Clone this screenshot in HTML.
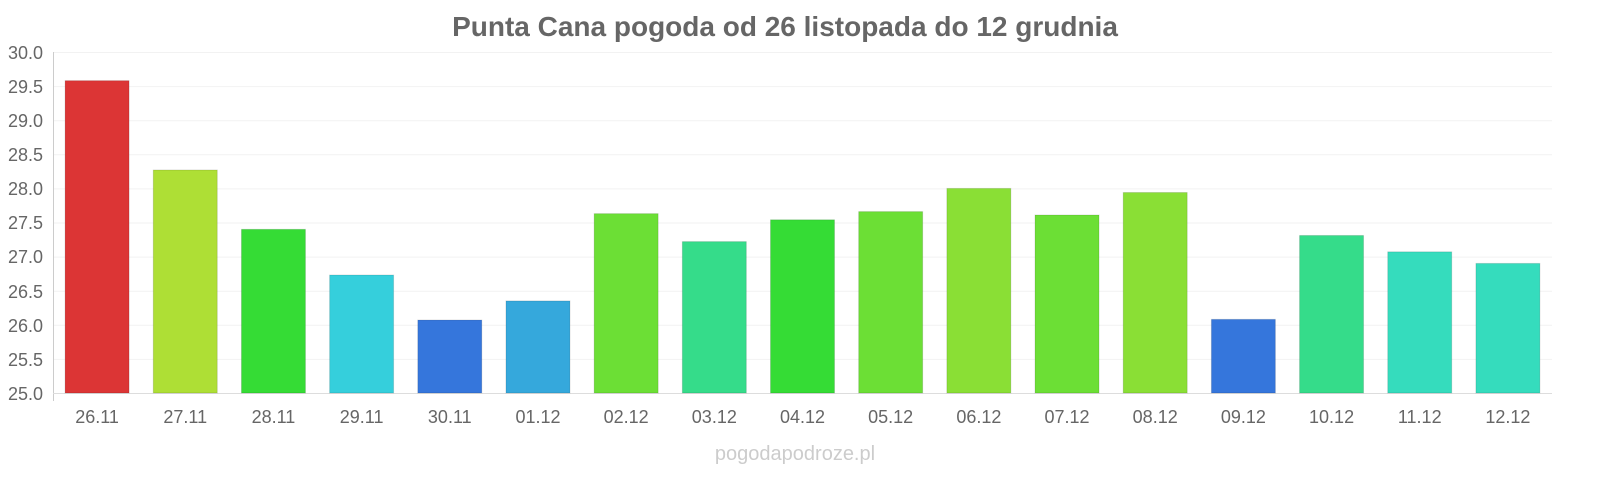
<!DOCTYPE html>
<html><head><meta charset="utf-8"><style>body{margin:0;background:#fff}svg{display:block}text{font-family:"Liberation Sans",sans-serif}</style></head>
<body>
<svg width="1600" height="480" viewBox="0 0 1600 480">
<text x="785" y="36" text-anchor="middle" font-size="28" font-weight="bold" fill="#666">Punta Cana pogoda od 26 listopada do 12 grudnia</text>
<g stroke="#f2f2f2" stroke-width="1">
<line x1="53" x2="1552" y1="52.5" y2="52.5"/><line x1="53" x2="1552" y1="86.6" y2="86.6"/><line x1="53" x2="1552" y1="120.7" y2="120.7"/><line x1="53" x2="1552" y1="154.8" y2="154.8"/><line x1="53" x2="1552" y1="188.9" y2="188.9"/><line x1="53" x2="1552" y1="223" y2="223"/><line x1="53" x2="1552" y1="257.1" y2="257.1"/><line x1="53" x2="1552" y1="291.2" y2="291.2"/><line x1="53" x2="1552" y1="325.3" y2="325.3"/><line x1="53" x2="1552" y1="359.4" y2="359.4"/>
</g>
<line x1="53.5" x2="53.5" y1="52" y2="401" stroke="#ccc"/>
<line x1="53" x2="1552" y1="393.5" y2="393.5" stroke="#ddd"/>
<g font-size="18" fill="#666" text-anchor="end">
<text x="43" y="59">30.0</text><text x="43" y="93">29.5</text><text x="43" y="127">29.0</text><text x="43" y="161">28.5</text><text x="43" y="195">28.0</text><text x="43" y="229">27.5</text><text x="43" y="263">27.0</text><text x="43" y="298">26.5</text><text x="43" y="332">26.0</text><text x="43" y="366">25.5</text><text x="43" y="400">25.0</text>
</g>
<g id="bars"></g>
<g id="labs" font-size="18" fill="#666" text-anchor="middle"></g>
<text x="795" y="460" text-anchor="middle" font-size="20" fill="#ccc">pogodapodroze.pl</text>
</svg>
<script>
var v=[29.58,28.27,27.40,26.73,26.07,26.35,27.63,27.22,27.54,27.66,28.00,27.61,27.94,26.08,27.31,27.07,26.90];
var c=["#dc3535","#aedf35","#35dc35","#35cfdc","#3576dc","#35a8dc","#6cdf35","#35dc8a","#35dc35","#6cdf35","#8adf35","#6cdf35","#8adf35","#3576dc","#35dc8a","#35dcbd","#35dcbd"];
var l=["26.11","27.11","28.11","29.11","30.11","01.12","02.12","03.12","04.12","05.12","06.12","07.12","08.12","09.12","10.12","11.12","12.12"];
var b=document.getElementById("bars"),t=document.getElementById("labs"),ns="http://www.w3.org/2000/svg",w=1499/17;
for(var i=0;i<17;i++){var cx=53+w*(i+0.5),y=393-(v[i]-25)*68.2;
var r=document.createElementNS(ns,"rect");r.setAttribute("x",cx-32);r.setAttribute("width",64);r.setAttribute("y",y);r.setAttribute("height",393-y);r.setAttribute("fill",c[i]);r.setAttribute("stroke","rgba(0,0,0,0.12)");b.appendChild(r);
var s=document.createElementNS(ns,"text");s.setAttribute("x",cx);s.setAttribute("y",423);s.textContent=l[i];t.appendChild(s);}
</script>
</body></html>
